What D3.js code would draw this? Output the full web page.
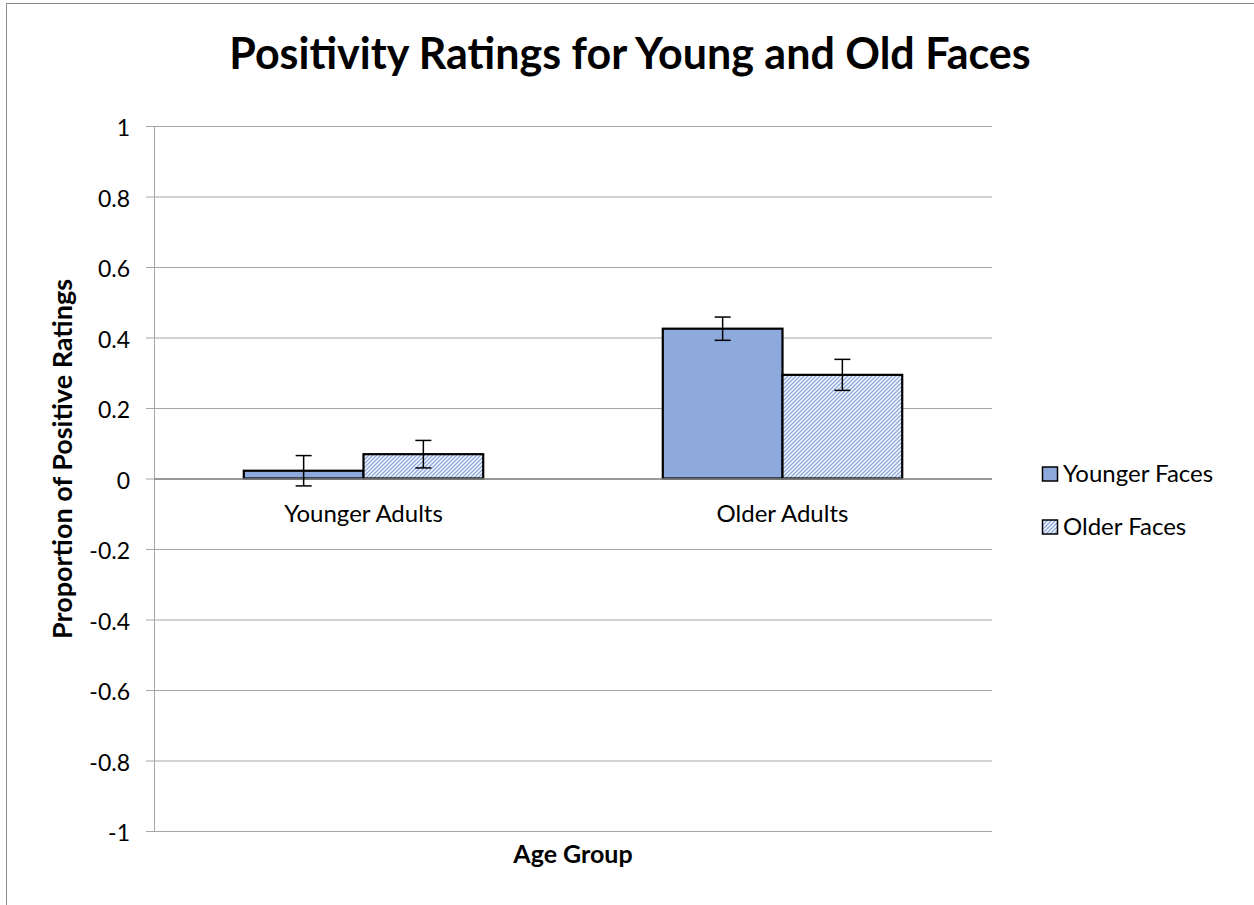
<!DOCTYPE html>
<html><head><meta charset="utf-8">
<script src="https://cdn.jsdelivr.net/npm/d3@7/dist/d3.min.js"></script>
<style>body{margin:0;background:#fff;}svg{display:block;font-family:Lato,"Open Sans",sans-serif;}</style>
</head><body>
<script>
const categories = ["Younger Adults", "Older Adults"];
const seriesNames = ["Younger Faces", "Older Faces"];
const youngerFaces = [0.022, 0.425];
const olderFaces = [0.069, 0.294];
const youngerFacesErr = [0.043, 0.033];
const olderFacesErr = [0.039, 0.044];
const yTicks = [1, 0.8, 0.6, 0.4, 0.2, 0, -0.2, -0.4, -0.6, -0.8, -1];

const W = 1254, H = 905;
const svg = d3.select("body").append("svg").attr("width", W).attr("height", H);
svg.append("rect").attr("x", 6.5).attr("y", 3.5).attr("width", W + 10).attr("height", H + 10)
  .attr("fill", "#fff").attr("stroke", "#8c8c8c").attr("stroke-width", 1);

const defs = svg.append("defs");
const pat = defs.append("pattern").attr("id", "hatch").attr("patternUnits", "userSpaceOnUse")
  .attr("width", 4).attr("height", 4);
pat.append("rect").attr("width", 4).attr("height", 4).attr("fill", "#fff");
pat.append("path").attr("d", "M-1,1 l2,-2 M0,4 l4,-4 M3,5 l2,-2").attr("stroke", "#8eaadc").attr("stroke-width", 1.5);

const pLeft = 154, pRight = 992, pTop = 126, pBottom = 831;
const y = d3.scaleLinear().domain([-1, 1]).range([pBottom, pTop]);
const x0 = d3.scaleBand().domain(categories).range([pLeft, pRight]).paddingInner(0).paddingOuter(0);
const x1 = d3.scaleBand().domain(seriesNames).range([x0.bandwidth() * 0.2143, x0.bandwidth() * 0.7857]);

// gridlines
svg.append("g").selectAll("line").data(yTicks).join("line")
  .attr("x1", pLeft - 8).attr("x2", pRight).attr("y1", d => y(d) + 0.5).attr("y2", d => y(d) + 0.5)
  .attr("stroke", "#a6a6a6").attr("stroke-width", 1);
svg.append("line").attr("x1", pLeft + 0.5).attr("x2", pLeft + 0.5).attr("y1", pTop).attr("y2", pBottom)
  .attr("stroke", "#a6a6a6");

// y tick labels
svg.append("g").selectAll("text").data(yTicks).join("text")
  .attr("x", 130).attr("y", d => y(d) + 2).attr("dy", "0.35em").attr("text-anchor", "end")
  .attr("font-size", 23).attr("fill", "#000").text(d => String(d));

const data = categories.map((c, i) => [
  {cat: c, s: seriesNames[0], v: youngerFaces[i], e: youngerFacesErr[i]},
  {cat: c, s: seriesNames[1], v: olderFaces[i], e: olderFacesErr[i]}
]).flat();

const bars = svg.append("g");
bars.selectAll("rect").data(data).join("rect")
  .attr("x", d => x0(d.cat) + x1(d.s))
  .attr("y", d => y(Math.max(0, d.v)))
  .attr("width", x1.bandwidth())
  .attr("height", d => Math.abs(y(d.v) - y(0)))
  .attr("fill", d => d.s === seriesNames[0] ? "#8eaadc" : "url(#hatch)")
  .attr("stroke", "#000").attr("stroke-width", 2.2);

// zero axis line
svg.append("line").attr("x1", pLeft).attr("x2", pRight).attr("y1", y(0) + 0.5).attr("y2", y(0) + 0.5)
  .attr("stroke", "#868686").attr("stroke-width", 1.5);

// error bars
const eb = svg.append("g").attr("stroke", "#000").attr("stroke-width", 1.5);
data.forEach(d => {
  const cx = x0(d.cat) + x1(d.s) + x1.bandwidth() / 2;
  eb.append("line").attr("x1", cx).attr("x2", cx).attr("y1", y(d.v + d.e)).attr("y2", y(d.v - d.e));
  eb.append("line").attr("x1", cx - 8).attr("x2", cx + 8).attr("y1", y(d.v + d.e)).attr("y2", y(d.v + d.e));
  eb.append("line").attr("x1", cx - 8).attr("x2", cx + 8).attr("y1", y(d.v - d.e)).attr("y2", y(d.v - d.e));
});

// category labels
svg.append("g").selectAll("text").data(categories).join("text")
  .attr("x", d => x0(d) + x0.bandwidth() / 2).attr("y", 522)
  .attr("text-anchor", "middle").attr("font-size", 24).text(d => d);

// title
svg.append("text").attr("x", 630).attr("y", 69).attr("text-anchor", "middle")
  .attr("font-size", 43).attr("font-weight", "bold").text("Positivity Ratings for Young and Old Faces");

// axis titles
svg.append("text").attr("x", (pLeft + pRight) / 2).attr("y", 863).attr("text-anchor", "middle")
  .attr("font-size", 25).attr("font-weight", "bold").text("Age Group");
svg.append("text").attr("transform", `translate(72,459) rotate(-90)`)
  .attr("text-anchor", "middle").attr("font-size", 27).attr("font-weight", "bold")
  .text("Proportion of Positive Ratings");

// legend
const lg = svg.append("g");
seriesNames.forEach((s, i) => {
  const ly = 474 + i * 53;
  lg.append("rect").attr("x", 1042.5).attr("y", ly - 7).attr("width", 15).attr("height", 14)
    .attr("fill", i === 0 ? "#8eaadc" : "url(#hatch)").attr("stroke", "#000").attr("stroke-width", 1.5);
  lg.append("text").attr("x", 1063).attr("y", ly + 8).attr("font-size", 24).text(s);
});
</script>
</body></html>
